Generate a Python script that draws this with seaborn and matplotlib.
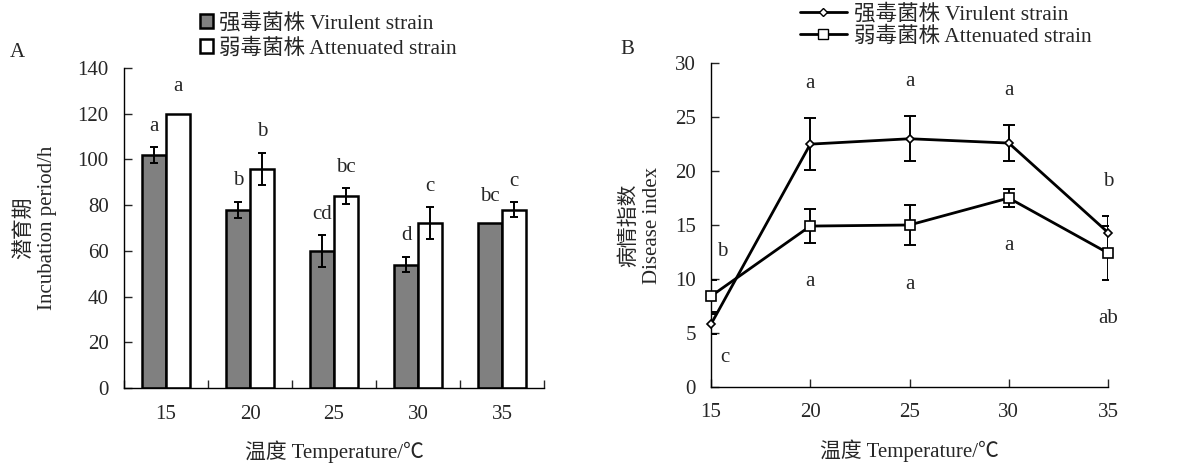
import numpy as np
import pandas as pd
import matplotlib
matplotlib.use("Agg")
import matplotlib.pyplot as plt
from matplotlib.patches import Patch
from matplotlib.lines import Line2D
import seaborn as sns

# dados
temperaturas = [15, 20, 25, 30, 35]
strains = ["强毒菌株 Virulent strain", "弱毒菌株 Attenuated strain"]

incub_virulento = [102, 78, 60, 54, 72]
incub_virulento_err = [3.4, 3.5, 7.0, 3.4, 0.0]
incub_atenuado = [120, 96, 84, 72, 78]
incub_atenuado_err = [0.0, 7.0, 3.5, 7.0, 3.4]
letras_incub_virulento = ["a", "b", "cd", "d", "bc"]
letras_incub_atenuado = ["a", "b", "bc", "c", "c"]

indice_virulento = [5.8, 22.5, 23.0, 22.6, 14.3]
indice_virulento_err = [0.9, 2.4, 2.1, 1.65, 1.5]
indice_atenuado = [8.4, 14.9, 15.0, 17.5, 12.4]
indice_atenuado_err = [1.5, 1.6, 1.9, 0.8, 2.5]
letras_indice_virulento = ["c", "a", "a", "a", "b"]
letras_indice_atenuado = ["b", "a", "a", "a", "ab"]

sns.set_style("ticks")
plt.rcParams["font.family"] = ["Liberation Serif", "Noto Sans CJK SC"]
plt.rcParams["axes.linewidth"] = 1.0
plt.rcParams["axes.edgecolor"] = "black"

fig = plt.figure(figsize=(11.88, 4.65), dpi=100)
axA = fig.add_axes([0.1044, 0.1656, 0.3535, 0.6882])
axB = fig.add_axes([0.5985, 0.1684, 0.3342, 0.6955])

fs = 15
fs_leg = 15.5

# ---------- Painel A: barras ----------
df_a = pd.DataFrame({
    "temp": [str(t) for t in temperaturas] * 2,
    "valor": incub_virulento + incub_atenuado,
    "erro": incub_virulento_err + incub_atenuado_err,
    "cepa": [strains[0]] * 5 + [strains[1]] * 5,
})
sns.barplot(data=df_a, x="temp", y="valor", hue="cepa", ax=axA,
            palette=["#808080", "white"], edgecolor="black", linewidth=1.8,
            width=0.57, gap=0, errorbar=None, legend=False)

barras = sorted(axA.patches, key=lambda p: p.get_x())
centros = [p.get_x() + p.get_width() / 2 for p in barras]
alturas = [p.get_height() for p in barras]
# intercalado: virulento, atenuado por temperatura
erros = []
letras = []
for i in range(5):
    erros += [incub_virulento_err[i], incub_atenuado_err[i]]
    letras += [letras_incub_virulento[i], letras_incub_atenuado[i]]
for xc, h, e, l in zip(centros, alturas, erros, letras):
    if e > 0:
        axA.errorbar(xc, h, yerr=e, color="black", lw=1.4, capsize=3, capthick=1.4)
    topo = h + max(e, 2.6)
    axA.annotate(l, (xc, topo), xytext=(0, 15), textcoords="offset points",
                 ha="center", va="center", fontsize=fs)

axA.set_ylim(0, 140)
axA.set_yticks(np.arange(0, 141, 20))
axA.set_xlim(-0.5, 4.5)
axA.set_xticks(range(5))
axA.set_xticklabels([str(t) for t in temperaturas])
axA.set_xticks(np.arange(-0.5, 4.6, 1), minor=True)
axA.tick_params(axis="x", which="major", length=0, pad=12, labelsize=fs)
axA.tick_params(axis="x", which="minor", direction="in", length=6, width=1)
axA.tick_params(axis="y", direction="in", length=6, width=1, labelsize=fs, pad=11)
axA.set_xlabel("温度 Temperature/℃", fontsize=fs, labelpad=12)
axA.set_ylabel("潜育期\nIncubation period/h", fontsize=fs, linespacing=1.25)
axA.yaxis.set_label_coords(-0.16, 0.5)
sns.despine(ax=axA)

# ---------- Painel B: linhas ----------
df_b = pd.DataFrame({
    "temp": temperaturas * 2,
    "valor": indice_virulento + indice_atenuado,
    "cepa": [strains[0]] * 5 + [strains[1]] * 5,
})
sns.lineplot(data=df_b, x="temp", y="valor", hue="cepa", style="cepa",
             palette=["black", "black"], markers=["D", "s"], dashes=False,
             markerfacecolor="white", markeredgecolor="black",
             markeredgewidth=1.2, linewidth=2, ax=axB, legend=False, zorder=3)
for ln, ms in zip(axB.lines, [4.5, 7]):
    ln.set_markersize(ms)
    ln.set_clip_on(False)

for vals, errs in [(indice_virulento, indice_virulento_err),
                   (indice_atenuado, indice_atenuado_err)]:
    axB.errorbar(temperaturas, vals, yerr=errs, fmt="none", ecolor="black",
                 elinewidth=1.4, capsize=4, capthick=1.4)

for i, t in enumerate(temperaturas):
    v, ve = indice_virulento[i], indice_virulento_err[i]
    a, ae = indice_atenuado[i], indice_atenuado_err[i]
    if i == 0:
        # em 15 °C as letras trocam de lado
        axB.annotate(letras_indice_virulento[i], (t, v - ve), xytext=(10, -10),
                     textcoords="offset points", ha="center", va="top", fontsize=fs)
        axB.annotate(letras_indice_atenuado[i], (t, a + ae), xytext=(8, 14),
                     textcoords="offset points", ha="center", va="bottom", fontsize=fs)
    else:
        axB.annotate(letras_indice_virulento[i], (t, v + ve), xytext=(0, 18),
                     textcoords="offset points", ha="center", va="bottom", fontsize=fs)
        axB.annotate(letras_indice_atenuado[i], (t, a - ae), xytext=(0, -21),
                     textcoords="offset points", ha="center", va="top", fontsize=fs)

axB.set_xlim(15, 35)
axB.set_xticks(temperaturas)
axB.set_ylim(0, 30)
axB.set_yticks(np.arange(0, 31, 5))
axB.tick_params(axis="x", direction="in", length=6, width=1, labelsize=fs, pad=12)
axB.tick_params(axis="y", direction="in", length=6, width=1, labelsize=fs, pad=11)
axB.set_xlabel("温度 Temperature/℃", fontsize=fs, labelpad=12)
axB.set_ylabel("病情指数\nDisease index", fontsize=fs, linespacing=1.25)
axB.yaxis.set_label_coords(-0.123, 0.5)
sns.despine(ax=axB)

# legendas
handles_a = [Patch(facecolor="#808080", edgecolor="black", linewidth=1.8),
             Patch(facecolor="white", edgecolor="black", linewidth=1.8)]
fig.legend(handles_a, strains, loc="upper left", bbox_to_anchor=(0.161, 0.99),
           frameon=False, fontsize=fs_leg, handlelength=0.6, handleheight=0.6,
           handletextpad=0.3, labelspacing=0.2, borderaxespad=0)

handles_b = [Line2D([], [], color="black", lw=2, marker="D", markersize=4.5,
                    markerfacecolor="white", markeredgecolor="black"),
             Line2D([], [], color="black", lw=2, marker="s", markersize=7,
                    markerfacecolor="white", markeredgecolor="black")]
fig.legend(handles_b, strains, loc="upper left", bbox_to_anchor=(0.666, 1.009),
           frameon=False, fontsize=fs_leg, handlelength=2.2,
           handletextpad=0.3, labelspacing=0.05, borderaxespad=0)

fig.text(0.008, 0.888, "A", fontsize=fs, va="center")
fig.text(0.522, 0.893, "B", fontsize=fs, va="center")

fig.savefig("out.png", dpi=100)
